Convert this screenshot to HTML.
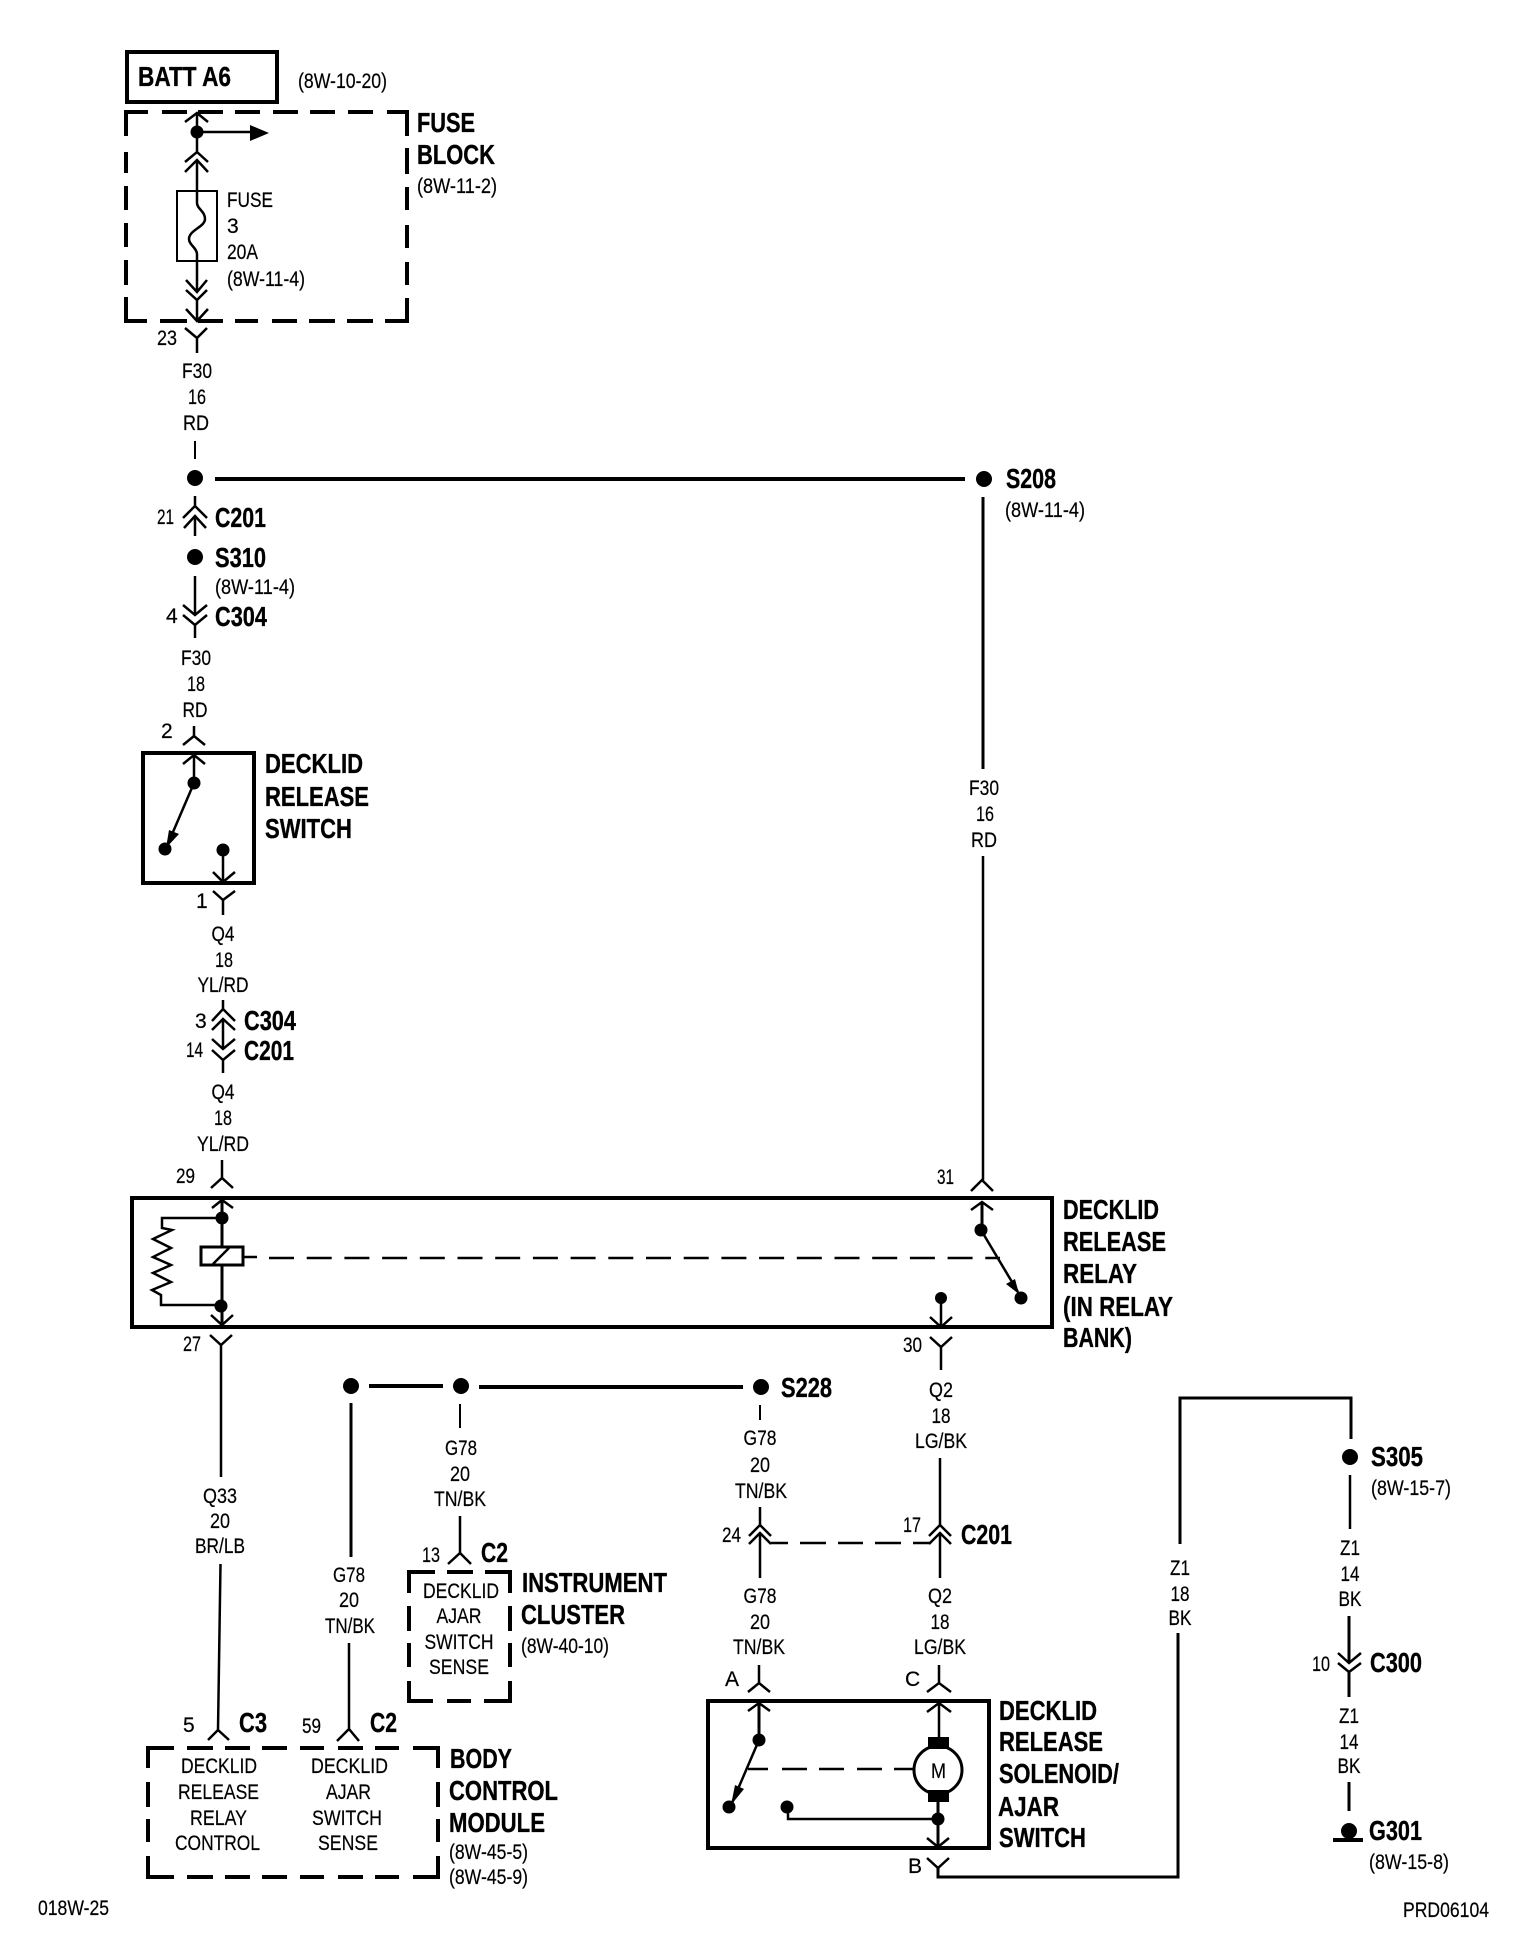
<!DOCTYPE html>
<html><head><meta charset="utf-8"><title>Decklid Release Wiring Diagram</title>
<style>
html,body{margin:0;padding:0;background:#fff}
svg{display:block}
text{font-family:"Liberation Sans",sans-serif;fill:#000;stroke:#000}
.r{font-size:21px;stroke-width:.2}
.b{font-size:27.5px;font-weight:700;stroke-width:.35}
.c{text-anchor:middle}
.w{fill:none;stroke:#000;stroke-width:2.5}
.h{fill:none;stroke:#000;stroke-width:4}
.m{fill:none;stroke:#000;stroke-width:3}
.t{fill:none;stroke:#000;stroke-width:2}
</style></head><body>
<svg xmlns="http://www.w3.org/2000/svg" width="1536" height="1954" viewBox="0 0 1536 1954">
<rect width="1536" height="1954" fill="#fff"/>

<!-- BATT / Fuse block -->
<rect x="127" y="52" width="150" height="50" class="h"/>
<text class="b" x="138" y="86" textLength="93" lengthAdjust="spacingAndGlyphs">BATT A6</text>
<text class="r" x="298" y="88" textLength="89" lengthAdjust="spacingAndGlyphs">(8W-10-20)</text>
<path class="h" d="M126 136V112H148M162 112H187M198 112H223M235 112H260M273 112H298M310 112H335M348 112H373M387 112H407V136M407 148V174M407 187V210M407 225V248M407 262V285M407 298V321H385M373 321H347M335 321H309M297 321H272M258 321H235M223 321H198M187 321H160M147 321H126V297M126 285V260M126 247V223M126 210V186M126 173V152"/>
<text class="b" x="417" y="132" textLength="58" lengthAdjust="spacingAndGlyphs">FUSE</text>
<text class="b" x="417" y="164" textLength="78" lengthAdjust="spacingAndGlyphs">BLOCK</text>
<text class="r" x="417" y="193" textLength="80" lengthAdjust="spacingAndGlyphs">(8W-11-2)</text>
<path class="w" d="M185 122L197 113L208 122M197 113V152M185 162L197 152L208 162M185 172L197 160L208 172M197 132H250"/>
<circle cx="197" cy="132" r="6.5"/>
<path d="M250 125L269 133L250 141Z"/>
<path class="w" d="M197 160V203C197 209 205 211 205 219C205 227 189 230 189 239C189 245 197 248 197 254V261"/>
<rect x="177" y="191" width="40" height="70" class="t"/>
<path class="w" d="M197 261V291M186 280L197 292L207 280M186 290L197 300L207 290M197 300V320M186 309L197 321L208 309"/>
<path class="w" d="M185 328L197 338L207 328M197 338V353"/>
<text class="r" x="157" y="345" textLength="20" lengthAdjust="spacingAndGlyphs">23</text>
<text class="r" x="227" y="207" textLength="46" lengthAdjust="spacingAndGlyphs">FUSE</text>
<text class="r" x="227" y="233">3</text>
<text class="r" x="227" y="259" textLength="31" lengthAdjust="spacingAndGlyphs">20A</text>
<text class="r" x="227" y="286" textLength="78" lengthAdjust="spacingAndGlyphs">(8W-11-4)</text>
<text class="r c" x="197" y="378" textLength="30" lengthAdjust="spacingAndGlyphs">F30</text>
<text class="r c" x="197" y="404" textLength="18" lengthAdjust="spacingAndGlyphs">16</text>
<text class="r c" x="196" y="430" textLength="26" lengthAdjust="spacingAndGlyphs">RD</text>
<path class="t" d="M195 441V459"/>

<!-- S208 run -->
<circle cx="195" cy="478" r="8"/>
<path class="h" d="M215 479H965"/>
<circle cx="984" cy="479" r="8"/>
<text class="b" x="1006" y="488" textLength="50" lengthAdjust="spacingAndGlyphs">S208</text>
<text class="r" x="1005" y="517" textLength="80" lengthAdjust="spacingAndGlyphs">(8W-11-4)</text>
<path class="m" d="M983 497V769"/>
<text class="r c" x="984" y="795" textLength="30" lengthAdjust="spacingAndGlyphs">F30</text>
<text class="r c" x="985" y="821" textLength="18" lengthAdjust="spacingAndGlyphs">16</text>
<text class="r c" x="984" y="847" textLength="26" lengthAdjust="spacingAndGlyphs">RD</text>
<path class="w" d="M983 856V1180M971 1191L982 1180L993 1191"/>
<text class="r" x="937" y="1184" textLength="17" lengthAdjust="spacingAndGlyphs">31</text>

<!-- C201 S310 C304 -->
<text class="r" x="157" y="524" textLength="17" lengthAdjust="spacingAndGlyphs">21</text>
<path class="w" d="M195 496V506M195 516V536M183 518L195 506L207 518M184 528L195 516L206 528"/>
<text class="b" x="215" y="527" textLength="51" lengthAdjust="spacingAndGlyphs">C201</text>
<circle cx="195" cy="557" r="8"/>
<text class="b" x="215" y="567" textLength="51" lengthAdjust="spacingAndGlyphs">S310</text>
<path class="w" d="M195 576V615"/>
<text class="r" x="215" y="594" textLength="80" lengthAdjust="spacingAndGlyphs">(8W-11-4)</text>
<path class="w" d="M183 605L195 615L207 605M183 615L195 625L207 615M195 625V638"/>
<text class="r" x="166" y="623">4</text>
<text class="b" x="215" y="626" textLength="52" lengthAdjust="spacingAndGlyphs">C304</text>
<text class="r c" x="196" y="665" textLength="30" lengthAdjust="spacingAndGlyphs">F30</text>
<text class="r c" x="196" y="691" textLength="18" lengthAdjust="spacingAndGlyphs">18</text>
<text class="r c" x="195" y="717" textLength="25" lengthAdjust="spacingAndGlyphs">RD</text>

<!-- Release switch -->
<text class="r" x="161" y="738">2</text>
<path class="w" d="M194 726V736M183 745L194 736L205 745"/>
<rect x="143" y="753" width="111" height="130" class="h"/>
<path class="w" d="M183 764L194 755L205 764M194 755V783"/>
<circle cx="194" cy="783" r="6.5"/>
<path class="w" d="M194 783L167 846"/>
<path d="M166 848L169 830L179 834Z"/>
<circle cx="165" cy="849" r="6.5"/>
<circle cx="223" cy="850" r="6.5"/>
<path class="w" d="M223 850V882M213 872L223 882L235 872"/>
<text class="r" x="196" y="908">1</text>
<path class="w" d="M213 891L223 900L235 891M223 900V915"/>
<text class="b" x="265" y="773" textLength="98" lengthAdjust="spacingAndGlyphs">DECKLID</text>
<text class="b" x="265" y="806" textLength="104" lengthAdjust="spacingAndGlyphs">RELEASE</text>
<text class="b" x="265" y="838" textLength="87" lengthAdjust="spacingAndGlyphs">SWITCH</text>

<!-- Q4 -->
<text class="r c" x="223" y="941" textLength="23" lengthAdjust="spacingAndGlyphs">Q4</text>
<text class="r c" x="224" y="967" textLength="18" lengthAdjust="spacingAndGlyphs">18</text>
<text class="r c" x="223" y="992" textLength="51" lengthAdjust="spacingAndGlyphs">YL/RD</text>
<path class="w" d="M223 1000V1009M223 1019V1049M223 1060V1073M212 1021L223 1009L235 1021M212 1030L223 1019L235 1030M212 1039L223 1049L235 1039M212 1050L223 1060L235 1050"/>
<text class="r" x="195" y="1028">3</text>
<text class="r" x="186" y="1057" textLength="17" lengthAdjust="spacingAndGlyphs">14</text>
<text class="b" x="244" y="1030" textLength="52" lengthAdjust="spacingAndGlyphs">C304</text>
<text class="b" x="244" y="1060" textLength="50" lengthAdjust="spacingAndGlyphs">C201</text>
<text class="r c" x="223" y="1099" textLength="23" lengthAdjust="spacingAndGlyphs">Q4</text>
<text class="r c" x="223" y="1125" textLength="18" lengthAdjust="spacingAndGlyphs">18</text>
<text class="r c" x="223" y="1151" textLength="52" lengthAdjust="spacingAndGlyphs">YL/RD</text>

<!-- Relay -->
<text class="r" x="176" y="1183" textLength="19" lengthAdjust="spacingAndGlyphs">29</text>
<path class="w" d="M222 1160V1178M211 1188L222 1178L233 1188"/>
<rect x="132" y="1198" width="920" height="129" class="h"/>
<path class="w" d="M212 1208L222 1200L233 1208"/>
<path class="m" d="M222 1200V1247M222 1265V1323"/>
<path class="w" d="M211 1315L222 1325L233 1315"/>
<circle cx="222" cy="1218" r="6.5"/>
<circle cx="221" cy="1306" r="6.5"/>
<path class="w" d="M222 1218H162V1228L172 1230L153 1239L171 1248L153 1257L171 1265L153 1273L171 1282L152 1290L161 1295V1305H221"/>
<rect x="201" y="1247" width="42" height="18" class="m"/>
<path class="w" d="M213 1264L229 1248"/>
<path class="w" d="M243 1257H257M269 1258H1000" stroke-dasharray="25 12.7"/>
<path class="w" d="M971 1210L982 1202L993 1210"/>
<path class="m" d="M982 1202V1230"/>
<circle cx="981" cy="1230" r="6.5"/>
<path class="w" d="M981 1230L1018 1292"/>
<path d="M1019 1294L1006 1284L1015 1279Z"/>
<circle cx="1021" cy="1298" r="6.5"/>
<circle cx="941" cy="1298" r="6"/>
<path class="w" d="M941 1298V1327M930 1317L941 1327L952 1317"/>
<text class="r" x="183" y="1351" textLength="18" lengthAdjust="spacingAndGlyphs">27</text>
<path class="w" d="M210 1335L221 1345L232 1335M221 1345V1477"/>
<text class="r" x="903" y="1352" textLength="19" lengthAdjust="spacingAndGlyphs">30</text>
<path class="w" d="M930 1337L941 1347L952 1337M941 1347V1370"/>
<text class="b" x="1063" y="1219" textLength="96" lengthAdjust="spacingAndGlyphs">DECKLID</text>
<text class="b" x="1063" y="1251" textLength="103" lengthAdjust="spacingAndGlyphs">RELEASE</text>
<text class="b" x="1063" y="1283" textLength="74" lengthAdjust="spacingAndGlyphs">RELAY</text>
<text class="b" x="1063" y="1316" textLength="110" lengthAdjust="spacingAndGlyphs">(IN RELAY</text>
<text class="b" x="1063" y="1347" textLength="69" lengthAdjust="spacingAndGlyphs">BANK)</text>

<!-- Q33 -->
<text class="r c" x="220" y="1503" textLength="34" lengthAdjust="spacingAndGlyphs">Q33</text>
<text class="r c" x="220" y="1528" textLength="20" lengthAdjust="spacingAndGlyphs">20</text>
<text class="r c" x="220" y="1553" textLength="50" lengthAdjust="spacingAndGlyphs">BR/LB</text>
<path class="w" d="M220.5 1564L218 1730M208 1740L218 1730L229 1740"/>

<!-- G78 splice -->
<circle cx="351" cy="1386" r="8"/>
<circle cx="461" cy="1386" r="8"/>
<circle cx="761" cy="1387" r="8"/>
<path class="h" d="M369 1386H443M479 1387H743"/>
<text class="b" x="781" y="1397" textLength="51" lengthAdjust="spacingAndGlyphs">S228</text>
<path class="m" d="M351 1403V1557"/>
<text class="r c" x="349" y="1582" textLength="32" lengthAdjust="spacingAndGlyphs">G78</text>
<text class="r c" x="349" y="1607" textLength="20" lengthAdjust="spacingAndGlyphs">20</text>
<text class="r c" x="350" y="1633" textLength="50" lengthAdjust="spacingAndGlyphs">TN/BK</text>
<path class="w" d="M349 1643V1729M337 1741L349 1729L359 1741"/>
<path class="t" d="M460 1404V1428"/>
<text class="r c" x="461" y="1455" textLength="32" lengthAdjust="spacingAndGlyphs">G78</text>
<text class="r c" x="460" y="1481" textLength="20" lengthAdjust="spacingAndGlyphs">20</text>
<text class="r c" x="460" y="1506" textLength="52" lengthAdjust="spacingAndGlyphs">TN/BK</text>
<path class="w" d="M460 1516V1553M448 1564L460 1553L471 1564"/>
<text class="r" x="422" y="1562" textLength="18" lengthAdjust="spacingAndGlyphs">13</text>
<text class="b" x="481" y="1562" textLength="27" lengthAdjust="spacingAndGlyphs">C2</text>

<!-- Instrument cluster -->
<path class="h" d="M409 1593V1572H435M447 1572H473M485 1572H510V1593M510 1606V1631M510 1643V1667M510 1681V1701H484M471 1701H447M433 1701H409V1681M409 1667V1643M409 1631V1606"/>
<text class="r c" x="461" y="1598" textLength="76" lengthAdjust="spacingAndGlyphs">DECKLID</text>
<text class="r c" x="459" y="1623" textLength="45" lengthAdjust="spacingAndGlyphs">AJAR</text>
<text class="r c" x="459" y="1649" textLength="69" lengthAdjust="spacingAndGlyphs">SWITCH</text>
<text class="r c" x="459" y="1674" textLength="60" lengthAdjust="spacingAndGlyphs">SENSE</text>
<text class="b" x="522" y="1592" textLength="145" lengthAdjust="spacingAndGlyphs">INSTRUMENT</text>
<text class="b" x="521" y="1624" textLength="104" lengthAdjust="spacingAndGlyphs">CLUSTER</text>
<text class="r" x="521" y="1653" textLength="88" lengthAdjust="spacingAndGlyphs">(8W-40-10)</text>

<!-- BCM -->
<path class="h" d="M148 1768V1748H174M187 1748H213M225 1748H250M262 1748H287M300 1748H324M338 1748H363M375 1748H399M413 1748H438V1768M438 1782V1807M438 1819V1842M438 1856V1877H413M399 1877H375M363 1877H338M324 1877H300M287 1877H262M250 1877H225M213 1877H187M174 1877H148V1856M148 1842V1819M148 1807V1782"/>
<text class="r" x="183" y="1732">5</text>
<text class="b" x="239" y="1732" textLength="28" lengthAdjust="spacingAndGlyphs">C3</text>
<text class="r" x="302" y="1733" textLength="19" lengthAdjust="spacingAndGlyphs">59</text>
<text class="b" x="370" y="1732" textLength="27" lengthAdjust="spacingAndGlyphs">C2</text>
<text class="r c" x="219" y="1773" textLength="76" lengthAdjust="spacingAndGlyphs">DECKLID</text>
<text class="r c" x="218.500" y="1799" textLength="81" lengthAdjust="spacingAndGlyphs">RELEASE</text>
<text class="r c" x="218.500" y="1825" textLength="57" lengthAdjust="spacingAndGlyphs">RELAY</text>
<text class="r c" x="217.500" y="1850" textLength="85" lengthAdjust="spacingAndGlyphs">CONTROL</text>
<text class="r c" x="349.500" y="1773" textLength="77" lengthAdjust="spacingAndGlyphs">DECKLID</text>
<text class="r c" x="348.500" y="1799" textLength="45" lengthAdjust="spacingAndGlyphs">AJAR</text>
<text class="r c" x="347" y="1825" textLength="70" lengthAdjust="spacingAndGlyphs">SWITCH</text>
<text class="r c" x="348" y="1850" textLength="60" lengthAdjust="spacingAndGlyphs">SENSE</text>
<text class="b" x="450" y="1768" textLength="62" lengthAdjust="spacingAndGlyphs">BODY</text>
<text class="b" x="449" y="1800" textLength="109" lengthAdjust="spacingAndGlyphs">CONTROL</text>
<text class="b" x="449" y="1832" textLength="96" lengthAdjust="spacingAndGlyphs">MODULE</text>
<text class="r" x="449" y="1859" textLength="79" lengthAdjust="spacingAndGlyphs">(8W-45-5)</text>
<text class="r" x="449" y="1884" textLength="79" lengthAdjust="spacingAndGlyphs">(8W-45-9)</text>

<!-- C201 pair -->
<path class="t" d="M760 1405V1420"/>
<text class="r c" x="760" y="1445" textLength="33" lengthAdjust="spacingAndGlyphs">G78</text>
<text class="r c" x="760" y="1472" textLength="20" lengthAdjust="spacingAndGlyphs">20</text>
<text class="r c" x="761" y="1498" textLength="52" lengthAdjust="spacingAndGlyphs">TN/BK</text>
<path class="w" d="M760 1507V1525M760 1533V1578M749 1536L760 1525L771 1536M749 1544L760 1533L771 1544"/>
<text class="r" x="722" y="1542" textLength="19" lengthAdjust="spacingAndGlyphs">24</text>
<path class="w" d="M771 1543H788M800 1543H826M838 1543H863M875 1543H901M913 1543H930"/>
<text class="r" x="903" y="1532" textLength="18" lengthAdjust="spacingAndGlyphs">17</text>
<text class="r c" x="941" y="1397" textLength="24" lengthAdjust="spacingAndGlyphs">Q2</text>
<text class="r c" x="941" y="1423" textLength="19" lengthAdjust="spacingAndGlyphs">18</text>
<text class="r c" x="941" y="1448" textLength="52" lengthAdjust="spacingAndGlyphs">LG/BK</text>
<path class="w" d="M940 1458V1525M940 1533V1578M929 1536L940 1525L951 1536M929 1544L940 1533L951 1544"/>
<text class="b" x="961" y="1544" textLength="51" lengthAdjust="spacingAndGlyphs">C201</text>
<text class="r c" x="760" y="1603" textLength="33" lengthAdjust="spacingAndGlyphs">G78</text>
<text class="r c" x="760" y="1629" textLength="20" lengthAdjust="spacingAndGlyphs">20</text>
<text class="r c" x="759" y="1654" textLength="52" lengthAdjust="spacingAndGlyphs">TN/BK</text>
<text class="r c" x="940" y="1603" textLength="24" lengthAdjust="spacingAndGlyphs">Q2</text>
<text class="r c" x="940" y="1629" textLength="19" lengthAdjust="spacingAndGlyphs">18</text>
<text class="r c" x="940" y="1654" textLength="52" lengthAdjust="spacingAndGlyphs">LG/BK</text>

<!-- Solenoid -->
<text class="r" x="725" y="1686">A</text>
<text class="r" x="905" y="1686">C</text>
<path class="w" d="M759 1665V1683M748 1692L759 1683L770 1692M939 1665V1683M927 1692L939 1683L951 1692"/>
<rect x="708" y="1701" width="281" height="147" class="h"/>
<path class="w" d="M748 1711L759 1703L770 1711M927 1712L939 1703L951 1712M939 1703V1737"/>
<path class="m" d="M759 1703V1740"/>
<circle cx="759" cy="1740" r="6.5"/>
<path class="w" d="M759 1740L732 1803"/>
<path d="M731 1805L735 1785L744 1789Z"/>
<circle cx="729" cy="1807" r="6.5"/>
<path class="w" d="M748 1769H768M782 1769H807M819 1769H844M857 1769H882M894 1769H915"/>
<circle cx="938" cy="1770" r="24" fill="#fff" stroke="#000" stroke-width="3"/>
<rect x="928" y="1737" width="21" height="12"/>
<rect x="928" y="1790" width="21" height="12"/>
<text class="r" x="931" y="1778" textLength="15" lengthAdjust="spacingAndGlyphs">M</text>
<path class="m" d="M938 1802V1847"/>
<path class="w" d="M927 1838L938 1847L949 1838"/>
<circle cx="938" cy="1819" r="6.5"/>
<path class="w" d="M938 1819H788V1807"/>
<circle cx="787" cy="1807" r="6.5"/>
<path class="w" d="M927 1858L938 1868L949 1858"/>
<path class="m" d="M938 1868V1877H1178V1633M1180 1544V1398H1351V1439"/>
<text class="r" x="908" y="1873">B</text>
<text class="b" x="999" y="1720" textLength="98" lengthAdjust="spacingAndGlyphs">DECKLID</text>
<text class="b" x="999" y="1751" textLength="104" lengthAdjust="spacingAndGlyphs">RELEASE</text>
<text class="b" x="999" y="1783" textLength="120" lengthAdjust="spacingAndGlyphs">SOLENOID/</text>
<text class="b" x="998" y="1816" textLength="61" lengthAdjust="spacingAndGlyphs">AJAR</text>
<text class="b" x="999" y="1847" textLength="87" lengthAdjust="spacingAndGlyphs">SWITCH</text>

<!-- Right ground run -->
<text class="r c" x="1180" y="1575" textLength="20" lengthAdjust="spacingAndGlyphs">Z1</text>
<text class="r c" x="1180" y="1601" textLength="19" lengthAdjust="spacingAndGlyphs">18</text>
<text class="r c" x="1180" y="1625" textLength="23" lengthAdjust="spacingAndGlyphs">BK</text>
<circle cx="1350" cy="1457" r="8"/>
<text class="b" x="1371" y="1466" textLength="52" lengthAdjust="spacingAndGlyphs">S305</text>
<text class="r" x="1371" y="1495" textLength="80" lengthAdjust="spacingAndGlyphs">(8W-15-7)</text>
<path class="w" d="M1350 1475V1529"/>
<text class="r c" x="1350" y="1555" textLength="20" lengthAdjust="spacingAndGlyphs">Z1</text>
<text class="r c" x="1350" y="1581" textLength="19" lengthAdjust="spacingAndGlyphs">14</text>
<text class="r c" x="1350" y="1606" textLength="23" lengthAdjust="spacingAndGlyphs">BK</text>
<path class="m" d="M1349 1616V1663M1349 1672V1697"/>
<path class="w" d="M1338 1653L1349 1663L1361 1653M1338 1663L1349 1672L1361 1663"/>
<text class="r" x="1312" y="1671" textLength="18" lengthAdjust="spacingAndGlyphs">10</text>
<text class="b" x="1370" y="1672" textLength="52" lengthAdjust="spacingAndGlyphs">C300</text>
<text class="r c" x="1349" y="1723" textLength="20" lengthAdjust="spacingAndGlyphs">Z1</text>
<text class="r c" x="1349" y="1749" textLength="19" lengthAdjust="spacingAndGlyphs">14</text>
<text class="r c" x="1349" y="1773" textLength="23" lengthAdjust="spacingAndGlyphs">BK</text>
<path class="m" d="M1349 1782V1811"/>
<circle cx="1349" cy="1831" r="8"/>
<path class="h" d="M1333 1840H1363"/>
<text class="b" x="1369" y="1840" textLength="53" lengthAdjust="spacingAndGlyphs">G301</text>
<text class="r" x="1369" y="1869" textLength="80" lengthAdjust="spacingAndGlyphs">(8W-15-8)</text>

<text class="r" x="38" y="1915" textLength="71" lengthAdjust="spacingAndGlyphs">018W-25</text>
<text class="r" x="1403" y="1917" textLength="86" lengthAdjust="spacingAndGlyphs">PRD06104</text>
</svg>
</body></html>
